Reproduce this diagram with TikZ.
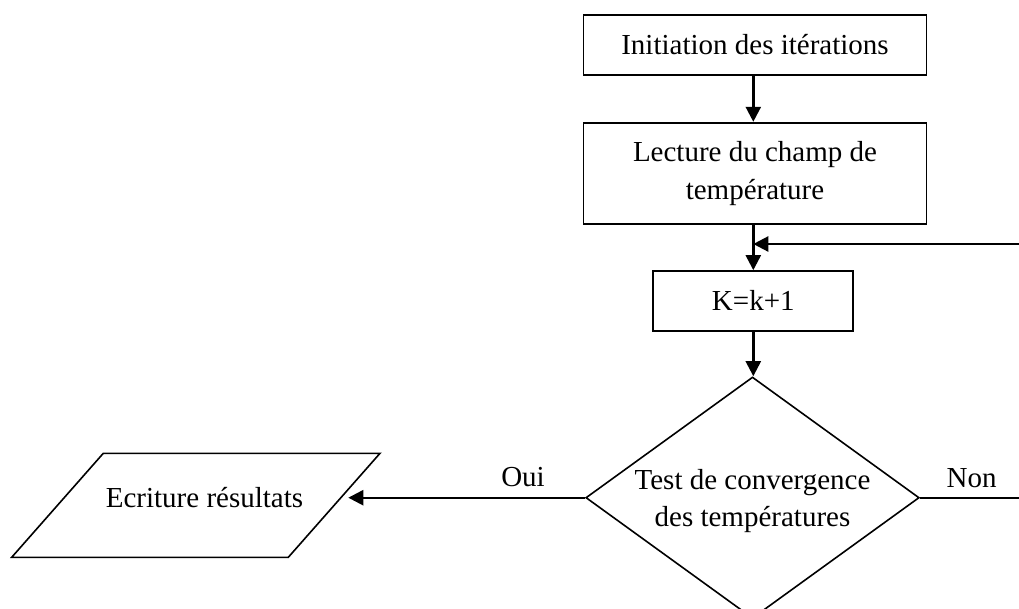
\documentclass[tikz,border=0pt]{standalone}
\usepackage{fontspec}
\setmainfont{Liberation Serif}
\usetikzlibrary{arrows.meta,shapes.geometric}

\begin{document}
\begin{tikzpicture}[x=1pt,y=-1pt,
  every node/.style={font=\fontsize{29}{37.5}\selectfont},
  stepbox/.style={draw, line width=1.8pt, align=center, inner sep=0pt},
  arr/.style={line width=2.4pt, -{Triangle[length=15pt,width=15pt]}},
  flow/.style={line width=1.8pt}]
  \useasboundingbox (0,0) rectangle (1019,608);

  % process boxes
  \node[stepbox, minimum width=343pt, minimum height=60pt] (init) at (755,45) {Initiation des itérations};
  \node[stepbox, minimum width=343pt, minimum height=101.6pt] (lect) at (755,173.5) {Lecture du champ de\\température};
  \node[stepbox, minimum width=200pt, minimum height=59.7pt] (kinc) at (753.3,300.9) {K=k+1};

  % decision
  \node[diamond, draw, line width=1.6pt, minimum width=333.4pt, minimum height=241.4pt, inner sep=0pt] (test) at (752.5,497.7) {};
  \node[align=center] (testtxt) at (752.5,501) {Test de convergence\\des températures};

  % output (parallelogram)
  \draw[line width=1.6pt, line join=miter] (11.7,557.3) -- (103.3,453.3) -- (380,453.3) -- (288.3,557.3) -- cycle;
  \node (out) at (204.5,498) {Ecriture résultats};
  \coordinate (outin) at (348.3,497.7);

  % loop-back and exit ends
  \coordinate (back) at (1019,244);
  \coordinate (nonend) at (1019,497.7);

  % connectors
  \draw[arr] (init.south -| kinc.north) -- (lect.north -| kinc.north);
  \draw[arr] (lect.south -| kinc.north) -- (kinc.north);
  \draw[arr] (back) -- (back -| kinc.north);
  \draw[arr] (kinc.south) -- (kinc.south |- test.north);
  \draw[arr] (test.west) -- (outin);
  \draw[flow] (test.east) -- (nonend);

  % branch labels
  \node[anchor=base] (oui) at (523,486.7) {Oui};
  \node[anchor=base] (non) at (971.7,487.3) {Non};
\end{tikzpicture}
\end{document}
